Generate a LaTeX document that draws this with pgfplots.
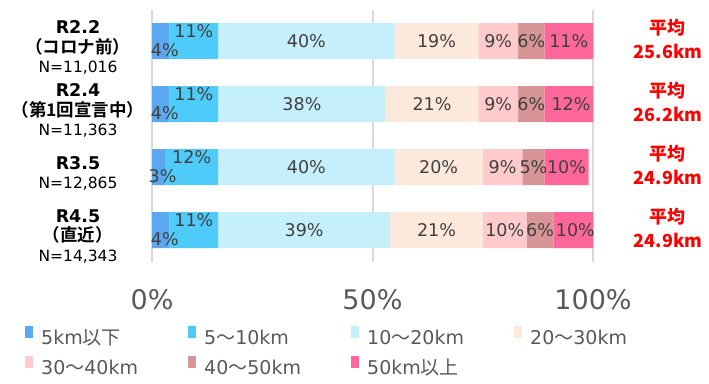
\documentclass[border=0pt]{standalone}
\usepackage{pgfplots}
\pgfplotsset{compat=1.18}
\usepackage{pgfplotstable}
\usepackage{fontspec}
\setmainfont{DejaVu Sans}
\newfontfamily\jp{Noto Sans CJK JP}[BoldFont={Noto Sans CJK JP Bold}]
\newfontfamily\jpheavy{Noto Sans CJK JP Black}

\definecolor{c1}{HTML}{5BA7F0}
\definecolor{c2}{HTML}{4FCBFA}
\definecolor{c3}{HTML}{C6EFFC}
\definecolor{c4}{HTML}{FCE9DC}
\definecolor{c5}{HTML}{FFCACC}
\definecolor{c6}{HTML}{D79595}
\definecolor{c7}{HTML}{FF6699}
\definecolor{lbl}{HTML}{404040}
\definecolor{tck}{HTML}{595959}
\definecolor{grd}{HTML}{D9D9D9}

% share of trips by distance band, one row per survey
\pgfplotstableread{
idx a b c d e f g avg
0 4 11 40 19 9 6 11 25.6
1 4 11 38 21 9 6 12 26.2
2 3 12 40 20 9 5 10 24.9
3 4 11 39 21 10 6 10 24.9
}\dist

\newcommand\legfont{\fontsize{19}{22}\selectfont}
\newcommand\catb{\fontsize{17.5}{19.5}\selectfont\bfseries}
\newcommand\catn{\fontsize{15.5}{19.5}\selectfont\mdseries}

\pgfplotsset{
  frame/.style={at={(152pt,121.5pt)}, anchor=south west,
    width=441pt, height=252pt, scale only axis,
    xmin=0, xmax=100, ymin=-0.5, ymax=3.5, y dir=reverse},
  seg/.style={fill=#1, draw=none,
    legend image code/.code={\fill[##1] (0pt,1pt) rectangle (8pt,13pt);}},
  lab/.style={draw=none, mark=none, point meta=explicit,
    /pgf/number format/assume math mode=true,
    nodes near coords={\pgfmathprintnumber{\pgfplotspointmeta}\%},
    every node near coord/.append style={anchor=center, text=lbl,
      font=\fontsize{17.5}{17.5}\selectfont, inner sep=0pt}},
}

\begin{document}
\begin{tikzpicture}[x=1pt,y=1pt]
\useasboundingbox (0,0) rectangle (709,383);
\begin{axis}[frame,
  xbar stacked, bar width=36pt,
  axis line style={draw=none},
  major tick length=0pt,
  xtick={0,50,100}, xticklabels={0\%,50\%,100\%},
  xmajorgrids, grid style={draw=grd, line width=2pt},
  xticklabel style={anchor=center, yshift=-38.5pt, text=tck,
    font=\fontsize{27}{27}\selectfont},
  ytick={0,1,2,3},
  yticklabels={
    {\catb R2.2\\{\jp\bfseries （コロナ前）}\\{\catn N=11,016}},
    {\catb R2.4\\{\jp\bfseries （第1回宣言中）}\\{\catn N=11,363}},
    {\catb R3.5\\{\catn N=12,865}},
    {\catb R4.5\\{\jp\bfseries （直近）}\\{\catn N=14,343}}},
  yticklabel style={align=center, anchor=center, xshift=-74pt, yshift=-6.5pt,
    text=black, font=\fontsize{17.5}{19.5}\selectfont},
  legend columns=4,
  legend cell align=left,
  legend style={at={(-0.288,-0.256)}, anchor=north west, draw=none,
    inner sep=0pt, row sep=8pt, text=tck,
    nodes={inner xsep=8pt, inner ysep=0pt, text height=14pt, text depth=4pt,
      font=\legfont}},
]
\addplot[seg=c1] table[x=a, y=idx]{\dist};
\addplot[seg=c2] table[x=b, y=idx]{\dist};
\addplot[seg=c3] table[x=c, y=idx]{\dist};
\addplot[seg=c4] table[x=d, y=idx]{\dist};
\addplot[seg=c5] table[x=e, y=idx]{\dist};
\addplot[seg=c6] table[x=f, y=idx]{\dist};
\addplot[seg=c7] table[x=g, y=idx]{\dist};
\legend{\makebox[139pt][l]{\legfont 5km{\jp 以下}},
        \makebox[139pt][l]{\legfont 5{\jp ～}10km},
        \makebox[139pt][l]{\legfont 10{\jp ～}20km},
        \makebox[139pt][l]{\legfont 20{\jp ～}30km},
        \makebox[139pt][l]{\legfont 30{\jp ～}40km},
        \makebox[139pt][l]{\legfont 40{\jp ～}50km},
        \makebox[139pt][l]{\legfont 50km{\jp 以上}}}
\end{axis}

% value labels at the middle of each segment, and the mean distance
\begin{axis}[frame, hide axis, clip=false]
\addplot[lab, every node near coord/.append style={xshift=4pt, yshift=-9pt}]
  table[x expr=\thisrow{a}/2, y=idx, meta=a]{\dist};
\addplot[lab, every node near coord/.append style={yshift=10pt}]
  table[x expr=\thisrow{a}+\thisrow{b}/2, y=idx, meta=b]{\dist};
\addplot[lab] table[x expr=\thisrow{a}+\thisrow{b}+\thisrow{c}/2, y=idx, meta=c]{\dist};
\addplot[lab] table[x expr=\thisrow{a}+\thisrow{b}+\thisrow{c}+\thisrow{d}/2, y=idx, meta=d]{\dist};
\addplot[lab] table[x expr=\thisrow{a}+\thisrow{b}+\thisrow{c}+\thisrow{d}+\thisrow{e}/2, y=idx, meta=e]{\dist};
\addplot[lab] table[x expr=\thisrow{a}+\thisrow{b}+\thisrow{c}+\thisrow{d}+\thisrow{e}+\thisrow{f}/2, y=idx, meta=f]{\dist};
\addplot[lab] table[x expr=\thisrow{a}+\thisrow{b}+\thisrow{c}+\thisrow{d}+\thisrow{e}+\thisrow{f}+\thisrow{g}/2, y=idx, meta=g]{\dist};
\addplot[draw=none, mark=none, point meta=explicit symbolic,
  nodes near coords={平均\\\pgfplotspointmeta km},
  every node near coord/.append style={anchor=center, align=center,
    text=red, font=\fontsize{18}{24}\selectfont\jpheavy, yshift=2pt}]
  table[x expr=117, y=idx, meta=avg]{\dist};
\end{axis}
\end{tikzpicture}
\end{document}
